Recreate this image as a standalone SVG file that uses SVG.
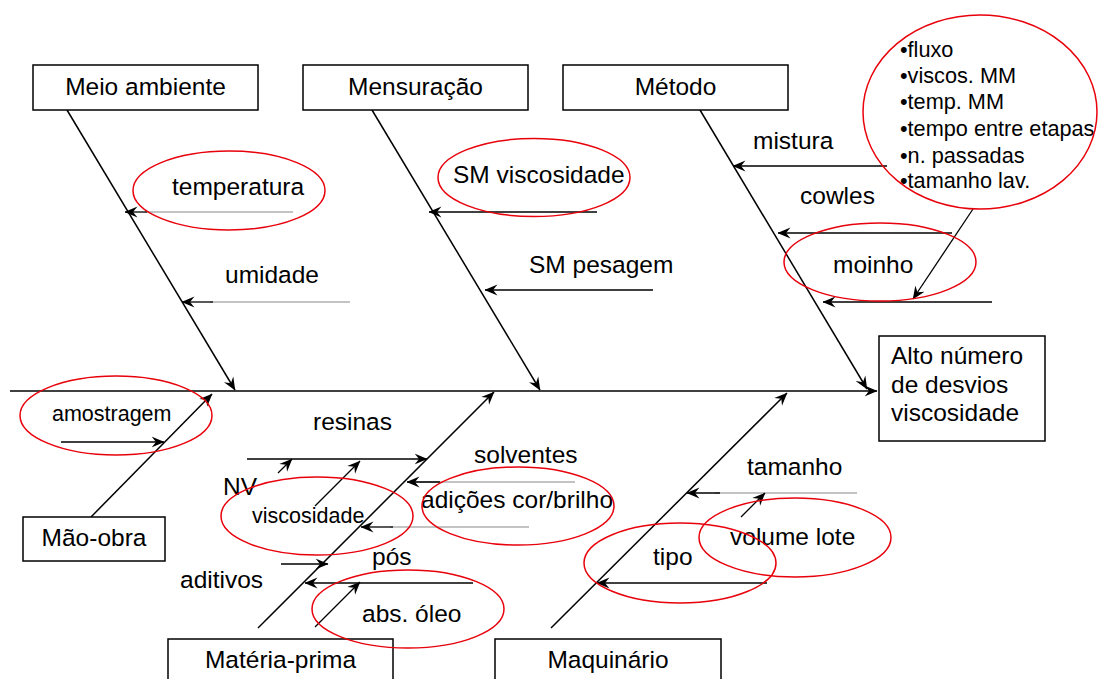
<svg xmlns="http://www.w3.org/2000/svg" width="1099" height="679" viewBox="0 0 1099 679">
<defs>
<marker id="ah" viewBox="0 0 13 12" refX="12.5" refY="6" markerWidth="13" markerHeight="12" markerUnits="userSpaceOnUse" orient="auto">
<path d="M0,0.5 L13,6 L0,11.5 L4.5,6 z" fill="#000"/>
</marker>
</defs>
<style>
.t{font-family:"Liberation Sans",Arial,sans-serif;font-size:24.5px;fill:#000}
.s{font-family:"Liberation Sans",Arial,sans-serif;font-size:21.5px;fill:#000}
.b{font-family:"Liberation Sans",Arial,sans-serif;font-size:21.7px;fill:#000}
.box{fill:#fff;stroke:#000;stroke-width:1.5}
.ln{stroke:#000;stroke-width:1.5;fill:none}
.br{stroke:#000;stroke-width:1.3;fill:none}
.gr{stroke:#888;stroke-width:1.2;fill:none}
.ov{fill:none;stroke:#e8000b;stroke-width:1.5}
</style>
<rect width="1099" height="679" fill="#fff"/>
<g id="connectors">
<line class="ln" x1="10" y1="391" x2="877" y2="391" marker-end="url(#ah)"/>
<line class="ln" x1="67" y1="110" x2="235" y2="390" marker-end="url(#ah)"/>
<line class="ln" x1="372" y1="110" x2="540" y2="390" marker-end="url(#ah)"/>
<line class="ln" x1="700" y1="110" x2="867" y2="389" marker-end="url(#ah)"/>
<line class="ln" x1="91" y1="517" x2="212" y2="394" marker-end="url(#ah)"/>
<line class="ln" x1="258" y1="628" x2="494" y2="392" marker-end="url(#ah)"/>
<line class="ln" x1="551" y1="628" x2="787" y2="393" marker-end="url(#ah)"/>
<line class="gr" x1="293" y1="212" x2="145" y2="212"/>
<line class="br" x1="147" y1="212" x2="125" y2="212" marker-end="url(#ah)"/>
<line class="gr" x1="350" y1="302" x2="210" y2="302"/>
<line class="br" x1="213" y1="302" x2="182" y2="302" marker-end="url(#ah)"/>
<line class="br" x1="597" y1="212" x2="429" y2="212" marker-end="url(#ah)"/>
<line class="br" x1="653" y1="290" x2="485" y2="290" marker-end="url(#ah)"/>
<line class="br" x1="887" y1="166" x2="733" y2="166" marker-end="url(#ah)"/>
<line class="br" x1="952" y1="233" x2="778" y2="233" marker-end="url(#ah)"/>
<line class="br" x1="992" y1="302" x2="823" y2="302" marker-end="url(#ah)"/>
<line class="br" x1="973" y1="209" x2="913" y2="299" marker-end="url(#ah)"/>
<line class="br" x1="61" y1="442" x2="164" y2="442" marker-end="url(#ah)"/>
<line class="br" x1="247" y1="459" x2="427" y2="459" marker-end="url(#ah)"/>
<line class="br" x1="278" y1="473" x2="292" y2="459" marker-end="url(#ah)"/>
<line class="br" x1="315" y1="506" x2="360" y2="461" marker-end="url(#ah)"/>
<line class="gr" x1="575" y1="482" x2="415" y2="482"/>
<line class="br" x1="440" y1="482" x2="407" y2="482" marker-end="url(#ah)"/>
<line class="gr" x1="529" y1="527" x2="390" y2="527"/>
<line class="br" x1="393" y1="527" x2="361" y2="527" marker-end="url(#ah)"/>
<line class="br" x1="281" y1="564" x2="328" y2="564" marker-end="url(#ah)"/>
<line class="br" x1="473" y1="583" x2="305" y2="583" marker-end="url(#ah)"/>
<line class="br" x1="315" y1="627" x2="360" y2="582" marker-end="url(#ah)"/>
<line class="gr" x1="857" y1="493" x2="715" y2="493"/>
<line class="br" x1="720" y1="493" x2="687" y2="493" marker-end="url(#ah)"/>
<line class="br" x1="741" y1="517" x2="765" y2="493" marker-end="url(#ah)"/>
<line class="br" x1="767" y1="583" x2="597" y2="583" marker-end="url(#ah)"/>
</g>
<g id="n-meio-ambiente"><rect class="box" x="33" y="65" width="225" height="45"/><text class="t" x="145.5" y="95" text-anchor="middle">Meio ambiente</text></g>
<g id="n-mensuracao"><rect class="box" x="303" y="65" width="225" height="45"/><text class="t" x="415.5" y="95" text-anchor="middle">Mensuração</text></g>
<g id="n-metodo"><rect class="box" x="563" y="65" width="225" height="45"/><text class="t" x="675.5" y="95" text-anchor="middle">Método</text></g>
<g id="n-efeito"><rect class="box" x="879" y="336" width="166" height="105"/><text class="t" x="891" y="364">Alto número</text><text class="t" x="891" y="393">de desvios</text><text class="t" x="891" y="421">viscosidade</text></g>
<g id="n-mao-obra"><rect class="box" x="23" y="517" width="142" height="44"/><text class="t" x="94" y="546" text-anchor="middle">Mão-obra</text></g>
<g id="n-materia-prima"><rect class="box" x="168" y="639" width="225" height="45"/><text class="t" x="280.5" y="668" text-anchor="middle">Matéria-prima</text></g>
<g id="n-maquinario"><rect class="box" x="495" y="639" width="226" height="45"/><text class="t" x="608" y="668" text-anchor="middle">Maquinário</text></g>
<g id="labels">
<text class="t" x="172" y="195">temperatura</text>
<text class="t" x="225" y="283">umidade</text>
<text class="t" x="453" y="183">SM viscosidade</text>
<text class="t" x="529" y="273">SM pesagem</text>
<text class="t" x="753" y="149">mistura</text>
<text class="t" x="800" y="204">cowles</text>
<text class="t" x="833" y="273">moinho</text>
<text class="s" x="52" y="421">amostragem</text>
<text class="t" x="313" y="430">resinas</text>
<text class="t" x="223" y="495">NV</text>
<text class="s" x="252" y="523">viscosidade</text>
<text class="t" x="474" y="463">solventes</text>
<text class="t" x="421" y="508">adições cor/brilho</text>
<text class="t" x="180" y="588">aditivos</text>
<text class="t" x="372" y="565">pós</text>
<text class="t" x="362" y="622">abs. óleo</text>
<text class="t" x="747" y="475">tamanho</text>
<text class="t" x="730" y="545">volume lote</text>
<text class="t" x="653" y="565">tipo</text>
<text class="b" x="900" y="57">•fluxo</text>
<text class="b" x="900" y="83">•viscos. MM</text>
<text class="b" x="900" y="109">•temp. MM</text>
<text class="b" x="900" y="136">•tempo entre etapas</text>
<text class="b" x="900" y="163">•n. passadas</text>
<text class="b" x="900" y="188">•tamanho lav.</text>
</g>
<g id="highlights">
<ellipse class="ov" cx="229" cy="190.5" rx="96" ry="39.5"/>
<ellipse class="ov" cx="534" cy="177.5" rx="96" ry="39"/>
<ellipse class="ov" cx="980" cy="112" rx="117" ry="97"/>
<ellipse class="ov" cx="880" cy="262" rx="96" ry="39"/>
<ellipse class="ov" cx="116" cy="415.5" rx="96" ry="39.5"/>
<ellipse class="ov" cx="317" cy="516" rx="96" ry="39"/>
<ellipse class="ov" cx="518" cy="506" rx="96" ry="39"/>
<ellipse class="ov" cx="408" cy="609" rx="96" ry="39"/>
<ellipse class="ov" cx="795" cy="537.5" rx="96" ry="39.5"/>
<ellipse class="ov" cx="680" cy="563" rx="96" ry="40"/>
</g>
</svg>
